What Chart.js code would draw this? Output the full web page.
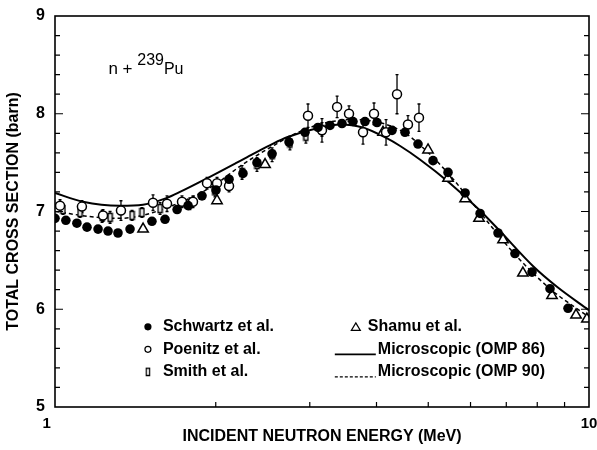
<!DOCTYPE html>
<html><head><meta charset="utf-8">
<script src="https://cdn.jsdelivr.net/npm/chart.js@4/dist/chart.umd.min.js"></script>
<style>html,body{margin:0;padding:0;background:#fff;}#wrap{width:597px;height:450px;}</style>
</head><body><div id="wrap"><canvas id="c" width="597" height="450"></canvas></div>
<script>
// ---- axis ticks ----
const xTickValues = [1, 10];
const xTickLabels = ['1    ', '10'];
const xMinorTicks = [2, 3, 4, 5, 6, 7, 8, 9];
const yTickValues = [5, 6, 7, 8, 9];
const yMinorTicks = [5.2,5.4,5.6,5.8,6.2,6.4,6.6,6.8,7.2,7.4,7.6,7.8,8.2,8.4,8.6,8.8];

// ---- calculations ----
const omp86E = [1.00, 1.128, 1.323, 1.461, 1.621, 1.714, 1.927, 2.19, 2.35, 2.53, 2.72, 3.14, 3.42, 3.77, 4.18, 4.43, 4.83, 5.49, 6.25, 6.81, 7.86, 8.71, 10.0];
const omp86Y = [7.19, 7.10, 7.06, 7.07, 7.14, 7.20, 7.34, 7.50, 7.59, 7.68, 7.76, 7.86, 7.89, 7.86, 7.75, 7.67, 7.53, 7.29, 7.01, 6.80, 6.44, 6.23, 5.99];
const omp90E = [1.00, 1.20, 1.32, 1.46, 1.62, 1.78, 2.00, 2.23, 2.54, 2.88, 3.23, 3.62, 4.06, 4.50, 4.78, 5.43, 6.25, 7.27, 8.45, 10.0];
const omp90Y = [7.00, 6.94, 6.93, 6.96, 7.04, 7.13, 7.28, 7.47, 7.66, 7.82, 7.91, 7.94, 7.91, 7.81, 7.70, 7.40, 6.99, 6.56, 6.21, 5.92];

// ---- measurements ----
const schwartzE = [1.000,1.048,1.099,1.148,1.204,1.257,1.312,1.382,1.519,1.607,1.693,1.775,1.885,2.002,2.118,2.249,2.389,2.550,2.743,2.939,3.108,3.273,3.447,3.614,3.806,4.009,4.277,4.523,4.784,5.104,5.445,5.861,6.252,6.755,7.267,7.822,8.452,9.135];
const schwartzY = [6.93,6.91,6.88,6.84,6.82,6.80,6.78,6.82,6.90,6.92,7.02,7.06,7.16,7.22,7.33,7.39,7.50,7.59,7.71,7.81,7.86,7.88,7.90,7.92,7.92,7.91,7.83,7.81,7.69,7.52,7.40,7.19,6.98,6.78,6.57,6.38,6.21,6.01];

const poenitzE = [1.022,1.123,1.230,1.329,1.526,1.621,1.729,1.813,1.926,2.011,2.118,2.977,3.162,3.375,3.553,3.774,3.957,4.168,4.370,4.581,4.804];
const poenitzY = [7.06,7.05,6.96,7.01,7.09,7.08,7.10,7.10,7.29,7.29,7.26,7.98,7.83,8.07,8.00,7.81,8.00,7.81,8.20,7.89,7.96];
const poenitzErr = [0.06,0.06,0.06,0.10,0.08,0.08,0.06,0.06,0.06,0.06,0.06,0.12,0.12,0.11,0.08,0.12,0.11,0.13,0.20,0.09,0.14];

const smithE = [1.035,1.114,1.225,1.268,1.394,1.455,1.573,1.789,1.993,2.109,2.240,2.389,2.550,2.754,2.950,3.162];
const smithY = [7.02,6.99,6.95,6.94,6.96,6.99,7.03,7.08,7.21,7.30,7.40,7.48,7.58,7.70,7.77,7.84];
const smithErr = [0.05,0.05,0.06,0.06,0.05,0.05,0.06,0.06,0.06,0.06,0.07,0.07,0.07,0.07,0.07,0.07];

const shamuE = [1.462,2.011,2.474,4.114,4.995,5.445,5.861,6.223,6.902,7.520,8.525,9.456,9.910];
const shamuY = [6.82,7.11,7.48,7.81,7.63,7.34,7.13,6.93,6.71,6.37,6.14,5.94,5.90];

const legendLabels = ['Schwartz et al.', 'Poenitz et al.', 'Smith et al.', 'Shamu et al.', 'Microscopic (OMP 86)', 'Microscopic (OMP 90)'];

// ---- helpers ----
const pts = (xs, ys) => xs.map((x, i) => ({x: x, y: ys[i]}));
function smithMarker() {
  const c = document.createElement('canvas');
  c.width = 7; c.height = 11;
  const g = c.getContext('2d');
  g.fillStyle = '#fff'; g.fillRect(1, 1, 5, 9);
  g.strokeStyle = '#000'; g.lineWidth = 1.5;
  g.strokeRect(1.5, 1.5, 4, 8);
  return c;
}
const smithImg = smithMarker();

const FONT = "'Liberation Sans', Arial, Helvetica, sans-serif";

const errorBars = {
  id: 'errorBars',
  beforeDatasetsDraw(chart) {
    const ctx = chart.ctx, y = chart.scales.y;
    ctx.save();
    ctx.strokeStyle = '#000'; ctx.lineWidth = 1.3;
    chart.data.datasets.forEach((ds, di) => {
      if (!ds.errs) return;
      const meta = chart.getDatasetMeta(di);
      meta.data.forEach((el, i) => {
        const v = ds.data[i].y, e = ds.errs[i];
        const y1 = y.getPixelForValue(v + e), y2 = y.getPixelForValue(v - e);
        ctx.beginPath();
        ctx.moveTo(el.x, y1); ctx.lineTo(el.x, y2);
        ctx.moveTo(el.x - 1.5, y1); ctx.lineTo(el.x + 1.5, y1);
        ctx.moveTo(el.x - 1.5, y2); ctx.lineTo(el.x + 1.5, y2);
        ctx.stroke();
      });
    });
    ctx.restore();
  }
};

const frame = {
  id: 'frame',
  afterDraw(chart) {
    const ctx = chart.ctx, a = chart.chartArea, xs = chart.scales.x, ys = chart.scales.y;
    ctx.save();
    ctx.strokeStyle = '#000'; ctx.lineWidth = 1.6;
    ctx.strokeRect(a.left, a.top, a.right - a.left, a.bottom - a.top);
    ctx.lineWidth = 1.2;
    ctx.beginPath();
    xMinorTicks.forEach(v => {
      const px = xs.getPixelForValue(v);
      ctx.moveTo(px, a.bottom); ctx.lineTo(px, a.bottom - 5);
    });
    yMinorTicks.forEach(v => {
      const py = ys.getPixelForValue(v);
      ctx.moveTo(a.left, py); ctx.lineTo(a.left + 5, py);
      ctx.moveTo(a.right, py); ctx.lineTo(a.right - 5, py);
    });
    yTickValues.slice(1, -1).forEach(v => {
      const py = ys.getPixelForValue(v);
      ctx.moveTo(a.left, py); ctx.lineTo(a.left + 8, py);
      ctx.moveTo(a.right, py); ctx.lineTo(a.right - 8, py);
    });
    ctx.stroke();

    // reaction label
    ctx.fillStyle = '#000';
    ctx.textBaseline = 'alphabetic';
    ctx.font = '17px ' + FONT;
    const lx = a.left + 0.10 * (a.right - a.left), ly = a.top + 0.149 * (a.bottom - a.top);
    ctx.fillText('n + ', lx, ly);
    let w = ctx.measureText('n + ').width;
    ctx.font = '16px ' + FONT;
    ctx.fillText('239', lx + w, ly - 9);
    let w2 = ctx.measureText('239').width;
    ctx.fillText('Pu', lx + w + w2, ly);

    // legend
    const W = a.right - a.left, H = a.bottom - a.top;
    const c1 = a.left + 0.174 * W;
    const c2 = a.left + 0.524 * W;
    const r0 = a.top + 0.795 * H;
    const dr = 22.5;
    ctx.font = 'bold 16px ' + FONT;
    ctx.textBaseline = 'middle';
    // Schwartz
    ctx.beginPath(); ctx.arc(c1, r0, 3.6, 0, Math.PI * 2); ctx.fill();
    ctx.fillText(legendLabels[0], c1 + 15, r0);
    // Poenitz
    ctx.lineWidth = 1.2;
    ctx.beginPath(); ctx.arc(c1, r0 + dr, 3, 0, Math.PI * 2); ctx.stroke();
    ctx.fillText(legendLabels[1], c1 + 15, r0 + dr);
    // Smith
    ctx.drawImage(smithImg, c1 - 3, r0 + 2 * dr - 5, 6, 10);
    ctx.fillText(legendLabels[2], c1 + 15, r0 + 2 * dr);
    // Shamu
    ctx.beginPath();
    ctx.moveTo(c2 + 21, r0 - 4); ctx.lineTo(c2 + 25.5, r0 + 3.5); ctx.lineTo(c2 + 16.5, r0 + 3.5); ctx.closePath(); ctx.stroke();
    ctx.fillText(legendLabels[3], c2 + 33, r0);
    // OMP 86
    ctx.lineWidth = 1.6;
    ctx.beginPath(); ctx.moveTo(c2, r0 + dr + 5); ctx.lineTo(c2 + 41, r0 + dr + 5); ctx.stroke();
    ctx.fillText(legendLabels[4], c2 + 43, r0 + dr);
    // OMP 90
    ctx.lineWidth = 1.2;
    ctx.setLineDash([3, 2]);
    ctx.beginPath(); ctx.moveTo(c2, r0 + 2 * dr + 5); ctx.lineTo(c2 + 41, r0 + 2 * dr + 5); ctx.stroke();
    ctx.setLineDash([]);
    ctx.fillText(legendLabels[5], c2 + 43, r0 + 2 * dr);
    ctx.restore();
  }
};

new Chart(document.getElementById('c'), {
  type: 'scatter',
  data: {
    datasets: [
      { label: legendLabels[0], data: pts(schwartzE, schwartzY), pointStyle: 'circle', pointRadius: 4.8, backgroundColor: '#000', borderColor: '#000', borderWidth: 0 },
      { label: legendLabels[1], data: pts(poenitzE, poenitzY), errs: poenitzErr, pointStyle: 'circle', pointRadius: 4.5, backgroundColor: '#fff', borderColor: '#000', borderWidth: 1.5 },
      { label: legendLabels[3], data: pts(shamuE, shamuY), pointStyle: 'triangle', pointRadius: 6, backgroundColor: '#fff', borderColor: '#000', borderWidth: 1.5 },
      { label: legendLabels[2], data: pts(smithE, smithY), errs: smithErr, pointStyle: smithImg, pointRadius: 5 },
      { type: 'line', label: legendLabels[4], data: pts(omp86E, omp86Y), showLine: true, borderColor: '#000', borderWidth: 2, pointRadius: 0, cubicInterpolationMode: 'monotone', fill: false },
      { type: 'line', label: legendLabels[5], data: pts(omp90E, omp90Y), showLine: true, borderColor: '#000', borderWidth: 1.5, borderDash: [4, 3], pointRadius: 0, cubicInterpolationMode: 'monotone', fill: false }
    ]
  },
  options: {
    responsive: false, animation: false, devicePixelRatio: 1,
    layout: { padding: { top: 16, right: 8, left: 0, bottom: 0 } },
    plugins: { legend: { display: false }, tooltip: { enabled: false } },
    scales: {
      x: {
        type: 'logarithmic', min: 1, max: 10,
        grid: { display: false, drawTicks: false }, border: { display: false },
        afterBuildTicks: s => { s.ticks = xTickValues.map(v => ({ value: v })); },
        afterFit: s => { s.height = 43; s.paddingLeft = 0; s.paddingRight = 0; },
        ticks: { autoSkip: false, maxRotation: 0, padding: 8, color: '#000', font: { family: FONT, size: 15, weight: 'bold' },
          callback: v => { const i = xTickValues.indexOf(v); return i >= 0 ? xTickLabels[i] : ''; } },
        title: { display: true, text: 'INCIDENT NEUTRON ENERGY (MeV)', color: '#000', font: { family: FONT, size: 16, weight: 'bold' }, padding: { top: 0, bottom: 4 } }
      },
      y: {
        type: 'linear', min: 5, max: 9,
        grid: { display: false, drawTicks: false }, border: { display: false },
        afterBuildTicks: s => { s.ticks = yTickValues.map(v => ({ value: v })); },
        afterFit: s => { s.width = 55; s.paddingTop = 0; s.paddingBottom = 0; },
        ticks: { padding: 10, color: '#000', font: { family: FONT, size: 16, weight: 'bold' } },
        title: { display: true, text: 'TOTAL CROSS SECTION (barn)', color: '#000', font: { family: FONT, size: 16, weight: 'bold' }, padding: { top: 4, bottom: 0 } }
      }
    }
  },
  plugins: [errorBars, frame]
});
</script></body></html>
